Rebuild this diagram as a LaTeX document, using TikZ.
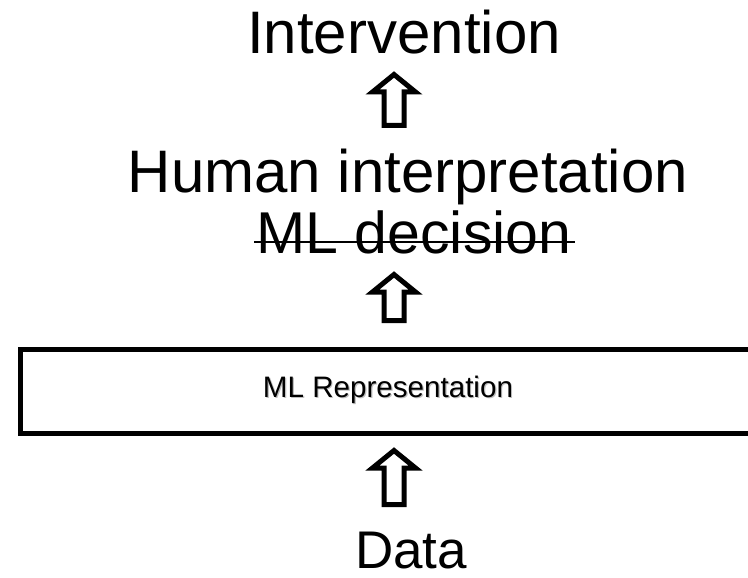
\documentclass[tikz,border=0pt]{standalone}
\usepackage{fontspec}
\setmainfont{Liberation Sans}
\tikzset{
  lbl/.style={inner sep=0pt, anchor=base, text=black},
  hollow/.style={draw=black, line width=5pt, line join=miter, fill=white},
  framebox/.style={draw=black, line width=5pt, fill=white},
}
% hollow upward block arrow: centre x, tip y, foot y
\newcommand\hollowup[3]{%
  \draw[hollow] (#1,#2+3.5) -- (#1+21.5,#2+21) -- (#1+10,#2+21) -- (#1+10,#3-2.5)
    -- (#1-10,#3-2.5) -- (#1-10,#2+21) -- (#1-21.5,#2+21) -- cycle;}
\begin{document}
\begin{tikzpicture}[x=1pt,y=-1pt]
  \useasboundingbox (0,0) rectangle (748,578);
  \clip (0,0) rectangle (748,578);

  % top labels
  \node[lbl, font=\fontsize{60}{72}\selectfont] (interv) at (404,54) {Intervention};
  \node[lbl, font=\fontsize{60}{72}\selectfont] (human) at (408,193) {Human interpretation};
  \node[lbl, font=\fontsize{59}{70}\selectfont] (dec) at (414,253) {ML decision};
  \draw[line width=2.5pt] ([yshift=11pt]dec.base west) ++(-2,0) -- ([yshift=11pt,xshift=3pt]dec.base east);

  % representation frame, running off the right edge
  \node[framebox, minimum width=770pt, minimum height=84pt, anchor=north west] (repbox) at (17.5,346.5) {};
  \node[lbl, font=\fontsize{29.6}{36}\selectfont, text=black!25] at (389.2,398.2) {ML Representation};
  \node[lbl, font=\fontsize{29.6}{36}\selectfont] (rep) at (388,397) {ML Representation};

  \node[lbl, font=\fontsize{53}{64}\selectfont] (data) at (411,568) {Data};

  % block arrows between the levels
  \hollowup{394}{71}{128}
  \hollowup{394}{271}{323}
  \hollowup{394}{447}{507}
\end{tikzpicture}
\end{document}
